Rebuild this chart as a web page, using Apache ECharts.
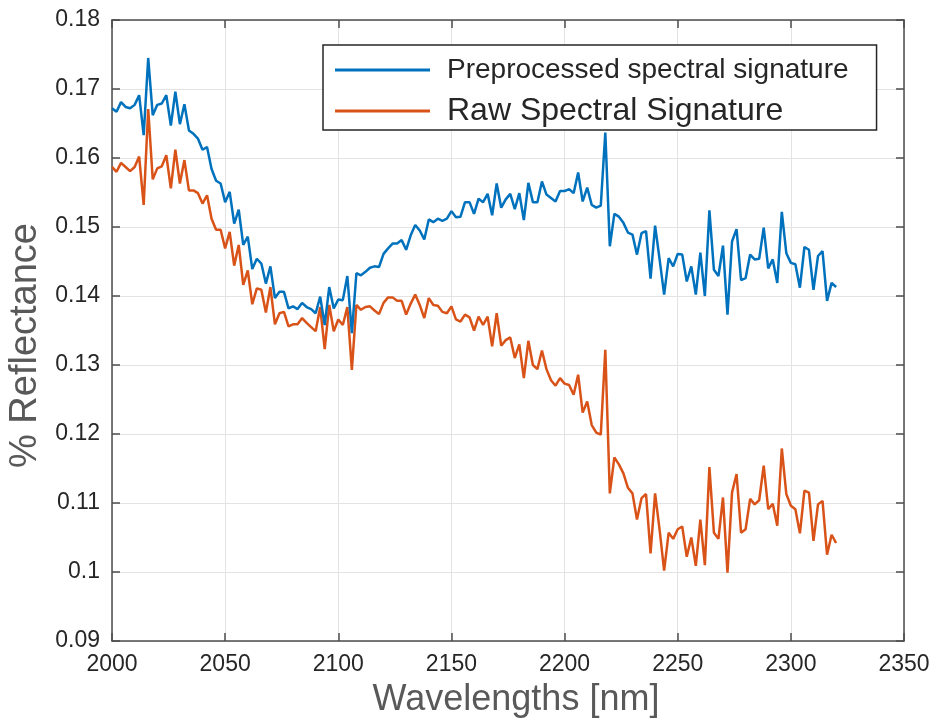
<!DOCTYPE html>
<html>
<head>
<meta charset="utf-8">
<title>Spectral signature</title>
<script src="https://cdn.jsdelivr.net/npm/echarts@6/dist/echarts.min.js"></script>
<style>
  html, body { margin: 0; padding: 0; background: #fff; }
  #chart { width: 932px; height: 719px; }
</style>
</head>
<body>
<div id="chart"></div>
<script>
// wavelengths 2000..2320 nm, 2 nm step
const startNm = 2000;
const stepNm = 2;

const preprocessed = [
  0.1672, 0.1667, 0.1681, 0.1674, 0.1672, 0.1677, 0.1691, 0.1633, 0.1745, 0.1662,
  0.1677, 0.1679, 0.1691, 0.1647, 0.1696, 0.1649, 0.1678, 0.1640, 0.1635, 0.1628,
  0.1612, 0.1616, 0.1584, 0.1567, 0.1563, 0.1536, 0.1551, 0.1505, 0.1525,
  0.1474, 0.1486, 0.1439, 0.1454, 0.1447, 0.1418, 0.1443, 0.1397, 0.1406, 0.1406,
  0.1382, 0.1385, 0.1381, 0.1390, 0.1384, 0.1381, 0.1375, 0.1399, 0.1358, 0.1413,
  0.1382, 0.1395, 0.1394, 0.1429, 0.1346, 0.1433, 0.1430, 0.1435,
  0.1441, 0.1443, 0.1442, 0.1461, 0.1469, 0.1476, 0.1476, 0.1481, 0.1467, 0.1488,
  0.1503, 0.1495, 0.1482, 0.1511, 0.1507, 0.1512, 0.1509, 0.1512, 0.1523, 0.1514,
  0.1515, 0.1536, 0.1536, 0.1519, 0.1541, 0.1536, 0.1548, 0.1517,
  0.1563, 0.1528, 0.1540, 0.1548, 0.1526, 0.1549, 0.1510, 0.1564, 0.1536, 0.1536,
  0.1566, 0.1547, 0.1542, 0.1537, 0.1552, 0.1552, 0.1555, 0.1549, 0.1579, 0.1537,
  0.1557, 0.1532, 0.1528, 0.1531, 0.1637, 0.1472, 0.1519, 0.1515,
  0.1506, 0.1492, 0.1489, 0.1460, 0.1491, 0.1494, 0.1425, 0.1502, 0.1453, 0.1402,
  0.1455, 0.1443, 0.1461, 0.1460, 0.1421, 0.1443, 0.1402, 0.1463, 0.1400, 0.1524,
  0.1438, 0.1429, 0.1473, 0.1373, 0.1479, 0.1497, 0.1423, 0.1426, 0.1460,
  0.1453, 0.1454, 0.1499, 0.1440, 0.1453, 0.1419, 0.1522, 0.1462, 0.1448, 0.1446,
  0.1412, 0.1471, 0.1467, 0.1409, 0.1458, 0.1465, 0.1393, 0.1419, 0.1413
];

const raw = [
  0.1587, 0.1580, 0.1593, 0.1587, 0.1581, 0.1587, 0.1602, 0.1532, 0.1671, 0.1569,
  0.1585, 0.1588, 0.1604, 0.1556, 0.1612, 0.1563, 0.1597, 0.1553, 0.1553, 0.1549,
  0.1534, 0.1546, 0.1512, 0.1496, 0.1496, 0.1469, 0.1493, 0.1444, 0.1474,
  0.1416, 0.1437, 0.1388, 0.1411, 0.1409, 0.1376, 0.1413, 0.1359, 0.1375, 0.1377,
  0.1356, 0.1359, 0.1359, 0.1368, 0.1361, 0.1355, 0.1349, 0.1384, 0.1323, 0.1387,
  0.1349, 0.1366, 0.1358, 0.1384, 0.1293, 0.1387, 0.1380, 0.1384,
  0.1385, 0.1379, 0.1374, 0.1390, 0.1398, 0.1398, 0.1393, 0.1393, 0.1373, 0.1389,
  0.1402, 0.1387, 0.1368, 0.1397, 0.1387, 0.1386, 0.1377, 0.1375, 0.1385, 0.1366,
  0.1363, 0.1373, 0.1369, 0.1350, 0.1370, 0.1358, 0.1370, 0.1327,
  0.1375, 0.1328, 0.1336, 0.1340, 0.1310, 0.1330, 0.1281, 0.1335, 0.1300, 0.1294,
  0.1321, 0.1294, 0.1278, 0.1270, 0.1281, 0.1273, 0.1271, 0.1257, 0.1286, 0.1231,
  0.1247, 0.1213, 0.1202, 0.1199, 0.1322, 0.1114, 0.1166, 0.1156,
  0.1143, 0.1122, 0.1114, 0.1076, 0.1107, 0.1113, 0.1027, 0.1114, 0.1061, 0.1002,
  0.1057, 0.1048, 0.1062, 0.1066, 0.1022, 0.1050, 0.1009, 0.1076, 0.1010, 0.1152,
  0.1057, 0.1048, 0.1108, 0.0999, 0.1115, 0.1142, 0.1057, 0.1062, 0.1106,
  0.1098, 0.1104, 0.1154, 0.1091, 0.1099, 0.1067, 0.1179, 0.1113, 0.1096, 0.1091,
  0.1056, 0.1118, 0.1115, 0.1045, 0.1098, 0.1103, 0.1025, 0.1054, 0.1042
];

const seriesNames = ['Preprocessed spectral signature', 'Raw Spectral Signature'];
const seriesColors = ['#0072BD', '#D95319'];

const wavelengths = preprocessed.map((_, i) => startNm + i * stepNm);
const toPairs = vals => vals.map((v, i) => [wavelengths[i], v]);

const font = 'Liberation Sans, Arial, sans-serif';
const axisColor = '#4d4d4d';
const textColor = '#262626';
const gridColor = '#e3e3e3';

// MATLAB-ish box axis (no labels, ticks pointing in)
function boxAxis(extra) {
  return Object.assign({
    type: 'value',
    axisLine: { show: true, lineStyle: { color: axisColor, width: 1.5 } },
    axisTick: { show: true, inside: true, length: 8, lineStyle: { color: axisColor, width: 1.5 } },
    axisLabel: { show: false },
    splitLine: { show: false }
  }, extra);
}

const chart = echarts.init(document.getElementById('chart'), null, { renderer: 'canvas' });

const option = {
  backgroundColor: '#ffffff',
  animation: false,
  grid: { left: 112, right: 28, top: 20, bottom: 78, outerBoundsMode: 'none' },
  legend: {
    orient: 'vertical',
    left: 323,
    top: 45,
    padding: [10, 28, 3, 12],
    itemGap: 10,
    itemWidth: 95,
    itemHeight: 3,
    icon: 'rect',
    backgroundColor: '#ffffff',
    borderColor: '#262626',
    borderWidth: 1.5,
    borderRadius: 0,
    textStyle: { fontFamily: font, color: textColor, padding: [0, 0, 0, 12] },
    data: [
      { name: seriesNames[0], textStyle: { fontSize: 28, lineHeight: 30 } },
      { name: seriesNames[1], textStyle: { fontSize: 32, lineHeight: 30 } }
    ]
  },
  xAxis: [
    {
      type: 'value',
      min: 2000,
      max: 2350,
      interval: 50,
      name: 'Wavelengths [nm]',
      nameLocation: 'middle',
      nameGap: 41,
      nameTextStyle: { fontFamily: font, fontSize: 36, color: '#595959', padding: [0, 0, 0, 16] },
      axisLine: { show: true, lineStyle: { color: axisColor, width: 1.5 } },
      axisTick: { show: true, inside: true, length: 8, lineStyle: { color: axisColor, width: 1.5 } },
      axisLabel: { fontFamily: font, fontSize: 23, color: textColor, margin: 12, formatter: v => String(v) },
      splitLine: { show: true, lineStyle: { color: gridColor, width: 1 } }
    },
    boxAxis({ position: 'top', min: 2000, max: 2350, interval: 50 })
  ],
  yAxis: [
    {
      type: 'value',
      min: 0.09,
      max: 0.18,
      interval: 0.01,
      name: '% Reflectance',
      nameLocation: 'middle',
      nameGap: 63,
      nameTextStyle: { fontFamily: font, fontSize: 38, color: '#595959', padding: [0, 30, 0, 0] },
      axisLine: { show: true, lineStyle: { color: axisColor, width: 1.5 } },
      axisTick: { show: true, inside: true, length: 8, lineStyle: { color: axisColor, width: 1.5 } },
      axisLabel: {
        fontFamily: font, fontSize: 23, color: textColor, margin: 12,
        formatter: v => String(+v.toFixed(2))
      },
      splitLine: { show: true, lineStyle: { color: gridColor, width: 1 } }
    },
    boxAxis({ position: 'right', min: 0.09, max: 0.18, interval: 0.01 })
  ],
  series: [
    {
      name: seriesNames[0],
      type: 'line',
      data: toPairs(preprocessed),
      showSymbol: false,
      symbol: 'none',
      color: seriesColors[0],
      lineStyle: { color: seriesColors[0], width: 2.5 },
      z: 3
    },
    {
      name: seriesNames[1],
      type: 'line',
      data: toPairs(raw),
      showSymbol: false,
      symbol: 'none',
      color: seriesColors[1],
      lineStyle: { color: seriesColors[1], width: 2.5 },
      z: 2
    }
  ]
};

chart.setOption(option);
</script>
</body>
</html>
